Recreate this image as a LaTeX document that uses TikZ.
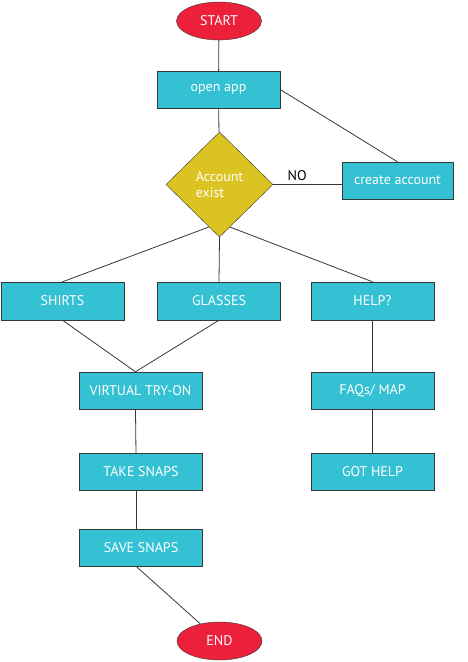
\documentclass[tikz,border=0pt]{standalone}
\usepackage{fontspec}
\setmainfont{PT Sans}
\usepackage{tikz}
\usetikzlibrary{shapes.geometric, backgrounds}
\definecolor{termRed}{RGB}{237, 32, 60}
\definecolor{stepCyan}{RGB}{52, 193, 211}
\definecolor{askGold}{RGB}{219, 196, 34}
\definecolor{edgeGray}{RGB}{55, 55, 55}

\begin{document}
\begin{tikzpicture}[x=1pt, y=-1pt, font=\fontsize{14}{16}\selectfont,
  terminal/.style={ellipse, draw=edgeGray, fill=termRed, text=white,
    minimum width=85pt, minimum height=38pt, inner sep=0pt},
  stepbox/.style={rectangle, draw=edgeGray, fill=stepCyan, text=white,
    minimum width=123pt, minimum height=37pt, inner sep=0pt},
  query/.style={diamond, draw=edgeGray, fill=askGold, text=white, align=left,
    minimum width=107pt, minimum height=105pt, inner sep=0pt},
  link/.style={draw=edgeGray, line width=0.8pt}]
  \useasboundingbox (0,0) rectangle (468,662);

  % Start, login and account check
  \node[terminal] (start) at (219, 21) {START};
  \node[stepbox] (app) at (218.5, 89.5) {open app};
  \node[query] (acct) at (219.5, 184.5) {Account\\exist};
  \node[stepbox, minimum width=111pt] (create) at (397.5, 180.5) {create account};

  % Menu choices
  \node[stepbox, minimum height=38pt] (shirts) at (62.5, 301) {SHIRTS};
  \node[stepbox, minimum height=38pt] (glasses) at (219, 301) {GLASSES};
  \node[stepbox, minimum height=38pt] (help) at (372.5, 301) {HELP?};

  % Try-on branch
  \node[stepbox] (tryon) at (140.5, 390.5) {VIRTUAL TRY-ON};
  \node[stepbox] (snaps) at (141, 471.5) {TAKE SNAPS};
  \node[stepbox] (save) at (141, 547.5) {SAVE SNAPS};
  \node[terminal] (stop) at (219.5, 641) {END};

  % Help branch
  \node[stepbox] (faq) at (372.5, 390.5) {FAQs/ MAP};
  \node[stepbox] (gothelp) at (372.5, 471.5) {GOT HELP};

  % Connectors
  \coordinate (fork) at (219.5, 223);
  \begin{scope}[on background layer]
    \draw[link] (fork) -- (shirts.north);
    \draw[link] (fork) -- (help.north);
  \end{scope}
  \draw[link] (start) -- (app);
  \draw[link] (app) -- (acct);
  \draw[link] (app.east) -- (create.north);
  \draw[link] (acct.east) -- node[pos=0.35, above, text=black] {NO} (acct.east -| create.west);
  \draw[link] (acct.south) -- (glasses.north);
  \draw[link] (shirts.south) -- (tryon.105);
  \draw[link] (glasses.south) -- (tryon.105);
  \draw[link] (tryon.255) -- (snaps.105);
  \draw[link] (snaps.255) -- (save.105);
  \draw[link] (save.255) -- (stop);
  \draw[link] (help) -- (faq);
  \draw[link] (faq) -- (gothelp);
\end{tikzpicture}
\end{document}
